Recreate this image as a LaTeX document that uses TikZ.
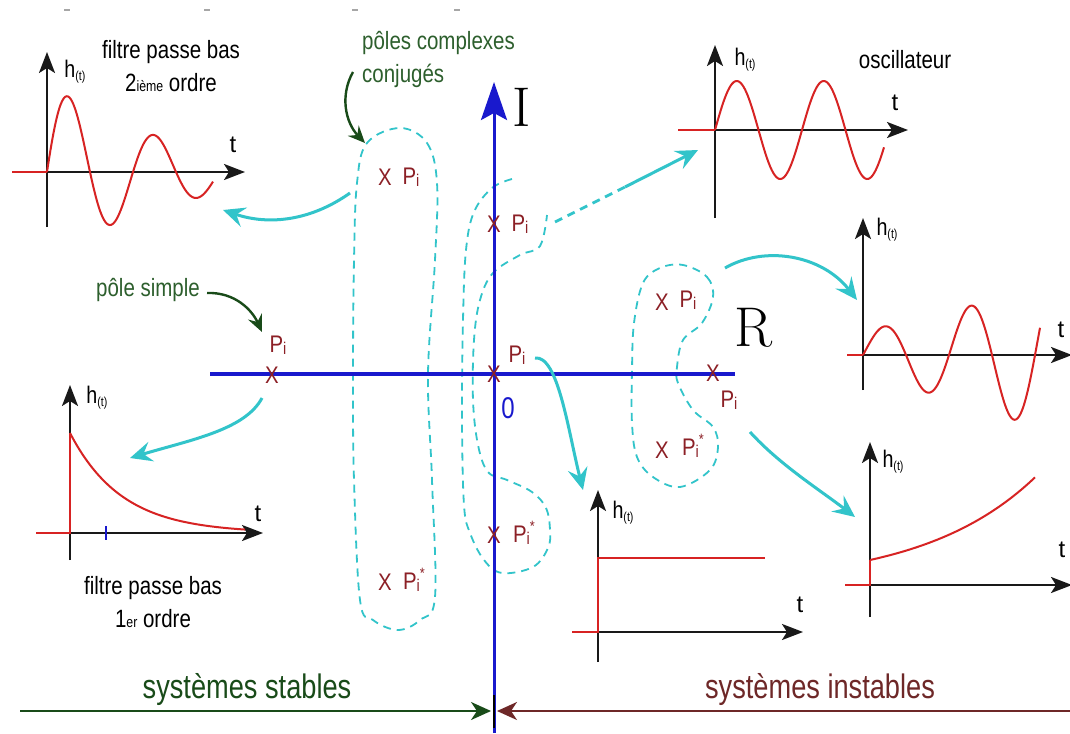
\documentclass[tikz,border=0pt]{standalone}
\usepackage{fontspec}
\newfontfamily\lab{Liberation Sans}
\usetikzlibrary{arrows.meta}
\definecolor{cyanc}{RGB}{50,196,202}
\definecolor{respred}{RGB}{215,35,35}
\definecolor{polec}{RGB}{140,32,38}
\definecolor{grarrc}{RGB}{25,75,25}
\definecolor{grtext}{RGB}{45,95,45}
\definecolor{brownc}{RGB}{110,40,40}
\definecolor{axblue}{RGB}{25,25,205}
\definecolor{axc}{RGB}{25,25,25}
\newcommand{\hlab}{h\raisebox{-0.12em}{\fontsize{13}{13}\selectfont(t)}}
\newcommand{\pol}{P\raisebox{-0.08em}{\fontsize{17}{17}\selectfont i}}
\newcommand{\polc}{\pol\raisebox{0.45em}{\fontsize{15}{15}\selectfont*}}
\begin{document}
\begin{tikzpicture}[x=1pt,y=-1pt,
  ax/.style={draw=axc, line width=2.4pt, -{Stealth[length=21pt,width=16pt,inset=5pt]}},
  resp/.style={draw=respred, line width=2pt},
  cyarr/.style={draw=cyanc, line width=3pt, -{Stealth[length=22pt,width=20pt,inset=8pt]}},
  grarr/.style={draw=grarrc, line width=2.4pt, -{Stealth[length=17pt,width=15pt,inset=6pt]}},
  cyloop/.style={draw=cyanc, line width=1.8pt, dash pattern=on 8pt off 6pt},
  lbl/.style={font=\lab\fontsize{25}{33}\selectfont, xscale=0.82, inner sep=0pt},
  hl/.style={font=\lab\fontsize{24}{24}\selectfont, xscale=0.82, inner sep=0pt},
  tl/.style={font=\lab\fontsize{24}{24}\selectfont, inner sep=0pt},
  px/.style={font=\lab\fontsize{24}{24}\selectfont, xscale=0.85, text=polec, inner sep=0pt},
  botlbl/.style={font=\lab\fontsize{34}{34}\selectfont, xscale=0.8, inner sep=0pt},
]
\useasboundingbox[fill=white] (0,0) rectangle (1070,733);

% small marks at top
\foreach \mx in {67,207,355,457}{\draw[gray!70, line width=1.2pt] (\mx-3,10) -- (\mx+3,10);}

% ---------- dashed loops ----------
\draw[cyloop] plot[smooth cycle, tension=0.6] coordinates {(400,128) (427,143) (437,183) (435,260) (428,374) (432,480) (435,597) (420,620) (398,630) (373,620) (360,600) (354,480) (353,374) (354,260) (357,183) (367,143)};
\draw[cyloop] plot[smooth, tension=0.6] coordinates {(512,179) (492,188) (474,212) (466,250) (463,320) (462,420) (464,505) (470,533) (484,560) (502,573) (533,567) (548,548) (550,530) (546,508) (532,492) (507,480) (488,472) (478,445) (473,400) (474,340) (480,300) (493,273) (520,255) (540,246) (547,215)};
\draw[cyloop] plot[smooth cycle, tension=0.6] coordinates {(683,265) (707,277) (713,297) (702,323) (683,340) (677,367) (678,383) (693,410) (713,427) (718,447) (710,470) (680,487) (653,477) (637,457) (632,423) (632,370) (634,323) (643,283) (660,268)};

% ---------- complex plane axes ----------
\coordinate (rl) at (210,374); \coordinate (rr) at (735,374);
\coordinate (ib) at (494,733); \coordinate (it) at (494,82);
\draw[draw=axblue, line width=4pt] (rl) -- (rr);
\draw[draw=axblue, line width=3pt, -{Stealth[length=38pt,width=26pt,inset=7pt]}] (ib) -- (it);
\node[font=\fontsize{56}{56}\selectfont, inner sep=0pt] (labI) at (522,107) {I};
\node[font=\fontsize{56}{56}\selectfont, inner sep=0pt] (labR) at (754,328) {R};
\node[font=\lab\fontsize{30}{30}\selectfont, xscale=0.8, text=axblue, inner sep=0pt] (zero) at (508,408) {0};

% ---------- poles ----------
\node[px] (xs) at (272,375) {X};   \node[px] (ps) at (278,345) {\pol};
\node[px] (xc1) at (385,177) {X};  \node[px] (pc1) at (411,177) {\pol};
\node[px] (xc2) at (385,582) {X};  \node[px] (pc2) at (414,580) {\polc};
\node[px] (xi1) at (494,224) {X};  \node[px] (pi1) at (520,224) {\pol};
\node[px] (xo) at (494,374) {X};   \node[px] (po) at (517,355) {\pol};
\node[px] (xi2) at (494,535) {X};  \node[px] (pi2) at (524,533) {\polc};
\node[px] (xr1) at (662,302) {X};  \node[px] (pr1) at (688,300) {\pol};
\node[px] (xr2) at (662,450) {X};  \node[px] (pr2) at (693,446) {\polc};
\node[px] (xr) at (713,373) {X};   \node[px] (pr) at (729,400) {\pol};

% ---------- green labels ----------
\node[lbl, text=grtext, align=left, anchor=north west] (lcc) at (362,31) {pôles complexes\\conjugés};
\node[lbl, text=grtext] (lps) at (148,290) {pôle simple};
\coordinate (g1s) at (353,72); \coordinate (g1e) at (365,143);
\draw[grarr] (g1s) .. controls (340,95) and (345,122) .. (g1e);
\coordinate (g2s) at (207,293); \coordinate (g2e) at (262,332);
\draw[grarr] (g2s) .. controls (235,292) and (252,310) .. (g2e);

% ---------- plot 1 : 2nd order ----------
\coordinate (p1b) at (47,227); \coordinate (p1t) at (47,52);
\coordinate (p1l) at (47,172); \coordinate (p1r) at (245,172);
\draw[ax] (p1b) -- (p1t);
\draw[ax] (p1l) -- (p1r);
\draw[resp] (12,172) -- (47,172);
\draw[resp] plot[domain=0:166, samples=120, smooth] ({47+\x},{172-90*exp(-0.0083*\x)*sin(4.186*\x)});
\node[hl] (h1) at (75,72) {\hlab};
\node[tl] (t1) at (233,145) {t};
\node[lbl, align=center] (f2) at (171,66) {filtre passe bas\\2{\fontsize{15}{15}\selectfont ième} ordre};

% ---------- plot 2 : 1st order ----------
\coordinate (p2b) at (70,560); \coordinate (p2t) at (70,385);
\coordinate (p2l) at (70,533); \coordinate (p2r) at (263,533);
\draw[ax] (p2b) -- (p2t);
\draw[ax] (p2l) -- (p2r);
\draw[resp] (36,533) -- (70,533) -- (70,433);
\draw[resp] plot[domain=0:175, samples=80, smooth] ({70+\x},{533-100*exp(-\x/52)});
\draw[draw=axblue, line width=1.2pt] (106,526) -- (106,540);
\node[hl] (h2) at (97,398) {\hlab};
\node[tl] (t2) at (258,514) {t};
\node[lbl, align=center] (f1) at (153,602) {filtre passe bas\\1{\fontsize{15}{15}\selectfont er} ordre};

% ---------- plot 3 : oscillator ----------
\coordinate (p3b) at (715,218); \coordinate (p3t) at (715,45);
\coordinate (p3l) at (715,130); \coordinate (p3r) at (908,130);
\draw[ax] (p3b) -- (p3t);
\draw[ax] (p3l) -- (p3r);
\draw[resp] (678,130) -- (715,130);
\draw[resp] plot[domain=0:169, samples=120, smooth] ({715+\x},{130-49*sin(4.138*\x)});
\node[hl] (h3) at (745,60) {\hlab};
\node[tl] (t3) at (895,103) {t};
\node[lbl] (osc) at (905,60) {oscillateur};

% ---------- plot 4 : growing oscillation ----------
\coordinate (p4b) at (863,390); \coordinate (p4t) at (863,218);
\coordinate (p4l) at (863,355); \coordinate (p4r) at (1072,355);
\draw[ax] (p4b) -- (p4t);
\draw[ax] (p4l) -- (p4r);
\draw[resp] (847,355) -- (863,355);
\draw[resp] plot[domain=0:177, samples=120, smooth] ({863+\x},{355-25*exp(0.0063*\x)*sin(4.186*\x)});
\node[hl] (h4) at (887,230) {\hlab};
\node[tl] (t4) at (1061,330) {t};

% ---------- plot 5 : exponential growth ----------
\coordinate (p5b) at (870,617); \coordinate (p5t) at (870,442);
\coordinate (p5l) at (870,585); \coordinate (p5r) at (1072,585);
\draw[ax] (p5b) -- (p5t);
\draw[ax] (p5l) -- (p5r);
\draw[resp] (845,585) -- (870,585) -- (870,560);
\draw[resp] plot[domain=0:165, samples=80, smooth] ({870+\x},{585-25*exp(\x/113)});
\node[hl] (h5) at (893,462) {\hlab};
\node[tl] (t5) at (1062,550) {t};

% ---------- plot 6 : step ----------
\coordinate (p6b) at (598,662); \coordinate (p6t) at (598,490);
\coordinate (p6l) at (598,632); \coordinate (p6r) at (803,632);
\draw[ax] (p6b) -- (p6t);
\draw[ax] (p6l) -- (p6r);
\draw[resp] (572,632) -- (598,632) -- (598,558) -- (765,558);
\node[hl] (h6) at (623,513) {\hlab};
\node[tl] (t6) at (800,605) {t};

% ---------- cyan arrows ----------
\coordinate (a1s) at (350,193); \coordinate (a1e) at (223,210);
\draw[cyarr] (a1s) .. controls (312,220) and (270,226) .. (a1e);
\coordinate (a2s) at (262,398); \coordinate (a2e) at (130,458);
\draw[cyarr] (a2s) .. controls (245,430) and (190,440) .. (a2e);
\coordinate (a3s) at (555,222); \coordinate (a3m) at (625,187); \coordinate (a3e) at (698,150);
\draw[cyloop, line width=2.8pt] (a3s) -- (a3m);
\draw[cyarr] (a3m) -- (a3e);
\coordinate (a4s) at (535,358); \coordinate (a4e) at (583,490);
\draw[cyarr] (a4s) .. controls (558,355) and (568,430) .. (a4e);
\coordinate (a5s) at (725,268); \coordinate (a5e) at (857,300);
\draw[cyarr] (a5s) .. controls (765,245) and (822,255) .. (a5e);
\coordinate (a6s) at (750,432); \coordinate (a6e) at (855,517);
\draw[cyarr] (a6s) .. controls (780,465) and (820,490) .. (a6e);

% ---------- bottom ----------
\coordinate (bl) at (20,711); \coordinate (bm1) at (491,711);
\coordinate (br) at (1070,711); \coordinate (bm2) at (497,711);
\draw[draw=grarrc, line width=2.2pt, -{Stealth[length=20pt,width=18pt,inset=6pt]}] (bl) -- (bm1);
\draw[draw=brownc, line width=2.2pt, -{Stealth[length=20pt,width=18pt,inset=6pt]}] (br) -- (bm2);
\coordinate (tk1) at (494,695); \coordinate (tk2) at (494,728);
\draw[black, line width=2.2pt] (tk1) -- (tk2);
\node[botlbl, text=grarrc] (stab) at (247,690) {systèmes stables};
\node[botlbl, text=brownc] (instab) at (820,690) {systèmes instables};
\end{tikzpicture}
\end{document}
